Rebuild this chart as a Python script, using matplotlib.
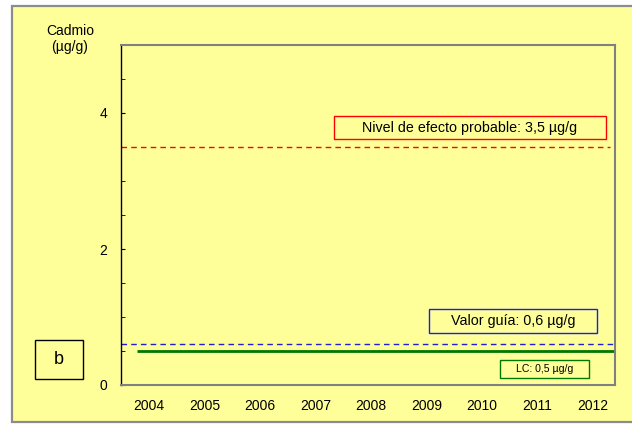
import matplotlib
matplotlib.use("Agg")
import matplotlib.pyplot as plt
from matplotlib.patches import Rectangle

plt.rcParams['font.family'] = ['Liberation Sans', 'DejaVu Sans']

years = ['2004', '2005', '2006', '2007', '2008', '2009', '2010', '2011', '2012']
nivel_efecto_probable = 3.5
valor_guia = 0.6
limite_cuantificacion = 0.5

W, H = 632, 424
YEL = '#FFFF99'
fig = plt.figure(figsize=(W / 100, H / 100), dpi=100)
fig.patch.set_facecolor('white')

def fx(x):
    return x / W

def fy(y):
    return 1 - y / H

# outer panel
fig.patches.append(Rectangle((fx(12), fy(422)), fx(640) - fx(12), fy(6) - fy(422),
                             transform=fig.transFigure, facecolor=YEL,
                             edgecolor='#8c8c8c', linewidth=1.6, zorder=-10))

ax = fig.add_axes([fx(121), fy(385), fx(615) - fx(121), fy(45) - fy(385)])
ax.set_facecolor(YEL)
ax.set_zorder(1)

x = list(range(len(years)))
ax.set_xlim(-0.505, 8.396)
ax.set_ylim(0, 5)

ax.axhline(nivel_efecto_probable, xmin=0, xmax=0.99, color='#FF0000', lw=1.0,
           linestyle=(0, (4, 3)))
ax.axhline(valor_guia, color='#2020CC', lw=1.0, linestyle=(0, (4, 3)))
ax.hlines(limite_cuantificacion, -0.22, 8.396, color='#007700', lw=2.0)

ax.set_xticks(x)
ax.set_xticklabels(years, fontsize=10)
ax.tick_params(axis='x', length=0, pad=10)
ax.set_yticks([0, 2, 4])
ax.set_yticks([0.5 * i for i in range(11)], minor=True)
ax.tick_params(axis='y', which='both', direction='in', length=3, labelsize=10, pad=10)

for s in ['top', 'right', 'bottom']:
    ax.spines[s].set_color('#808080')
    ax.spines[s].set_linewidth(1.5)
ax.spines['left'].set_color('black')
ax.spines['left'].set_linewidth(1.0)

fig.text(fx(70), fy(39), 'Cadmio\n(µg/g)', ha='center', va='center', fontsize=10,
         linespacing=1.15)

def boxed(cx, cy, x0, x1, y0, y1, txt, ec, fs, lw=1.0):
    fig.patches.append(Rectangle((fx(x0), fy(y1)), fx(x1) - fx(x0), fy(y0) - fy(y1),
                                 transform=fig.transFigure, facecolor=YEL,
                                 edgecolor=ec, linewidth=lw, zorder=5))
    fig.text(fx(cx), fy(cy), txt, ha='center', va='center', fontsize=fs, zorder=6)

boxed(470, 128, 334, 606, 116, 139, 'Nivel de efecto probable: 3,5 µg/g', '#FF0000', 10.3)
boxed(513, 321, 429, 597, 309, 333, 'Valor guía: 0,6 µg/g', '#1A1AFF', 10.3)
boxed(545, 369, 500, 589, 360, 378, 'LC: 0,5 µg/g', '#007700', 7.6)
boxed(59, 359, 35, 83, 340, 379, 'b', 'black', 13)

fig.savefig('out.png', dpi=100, facecolor='white')
